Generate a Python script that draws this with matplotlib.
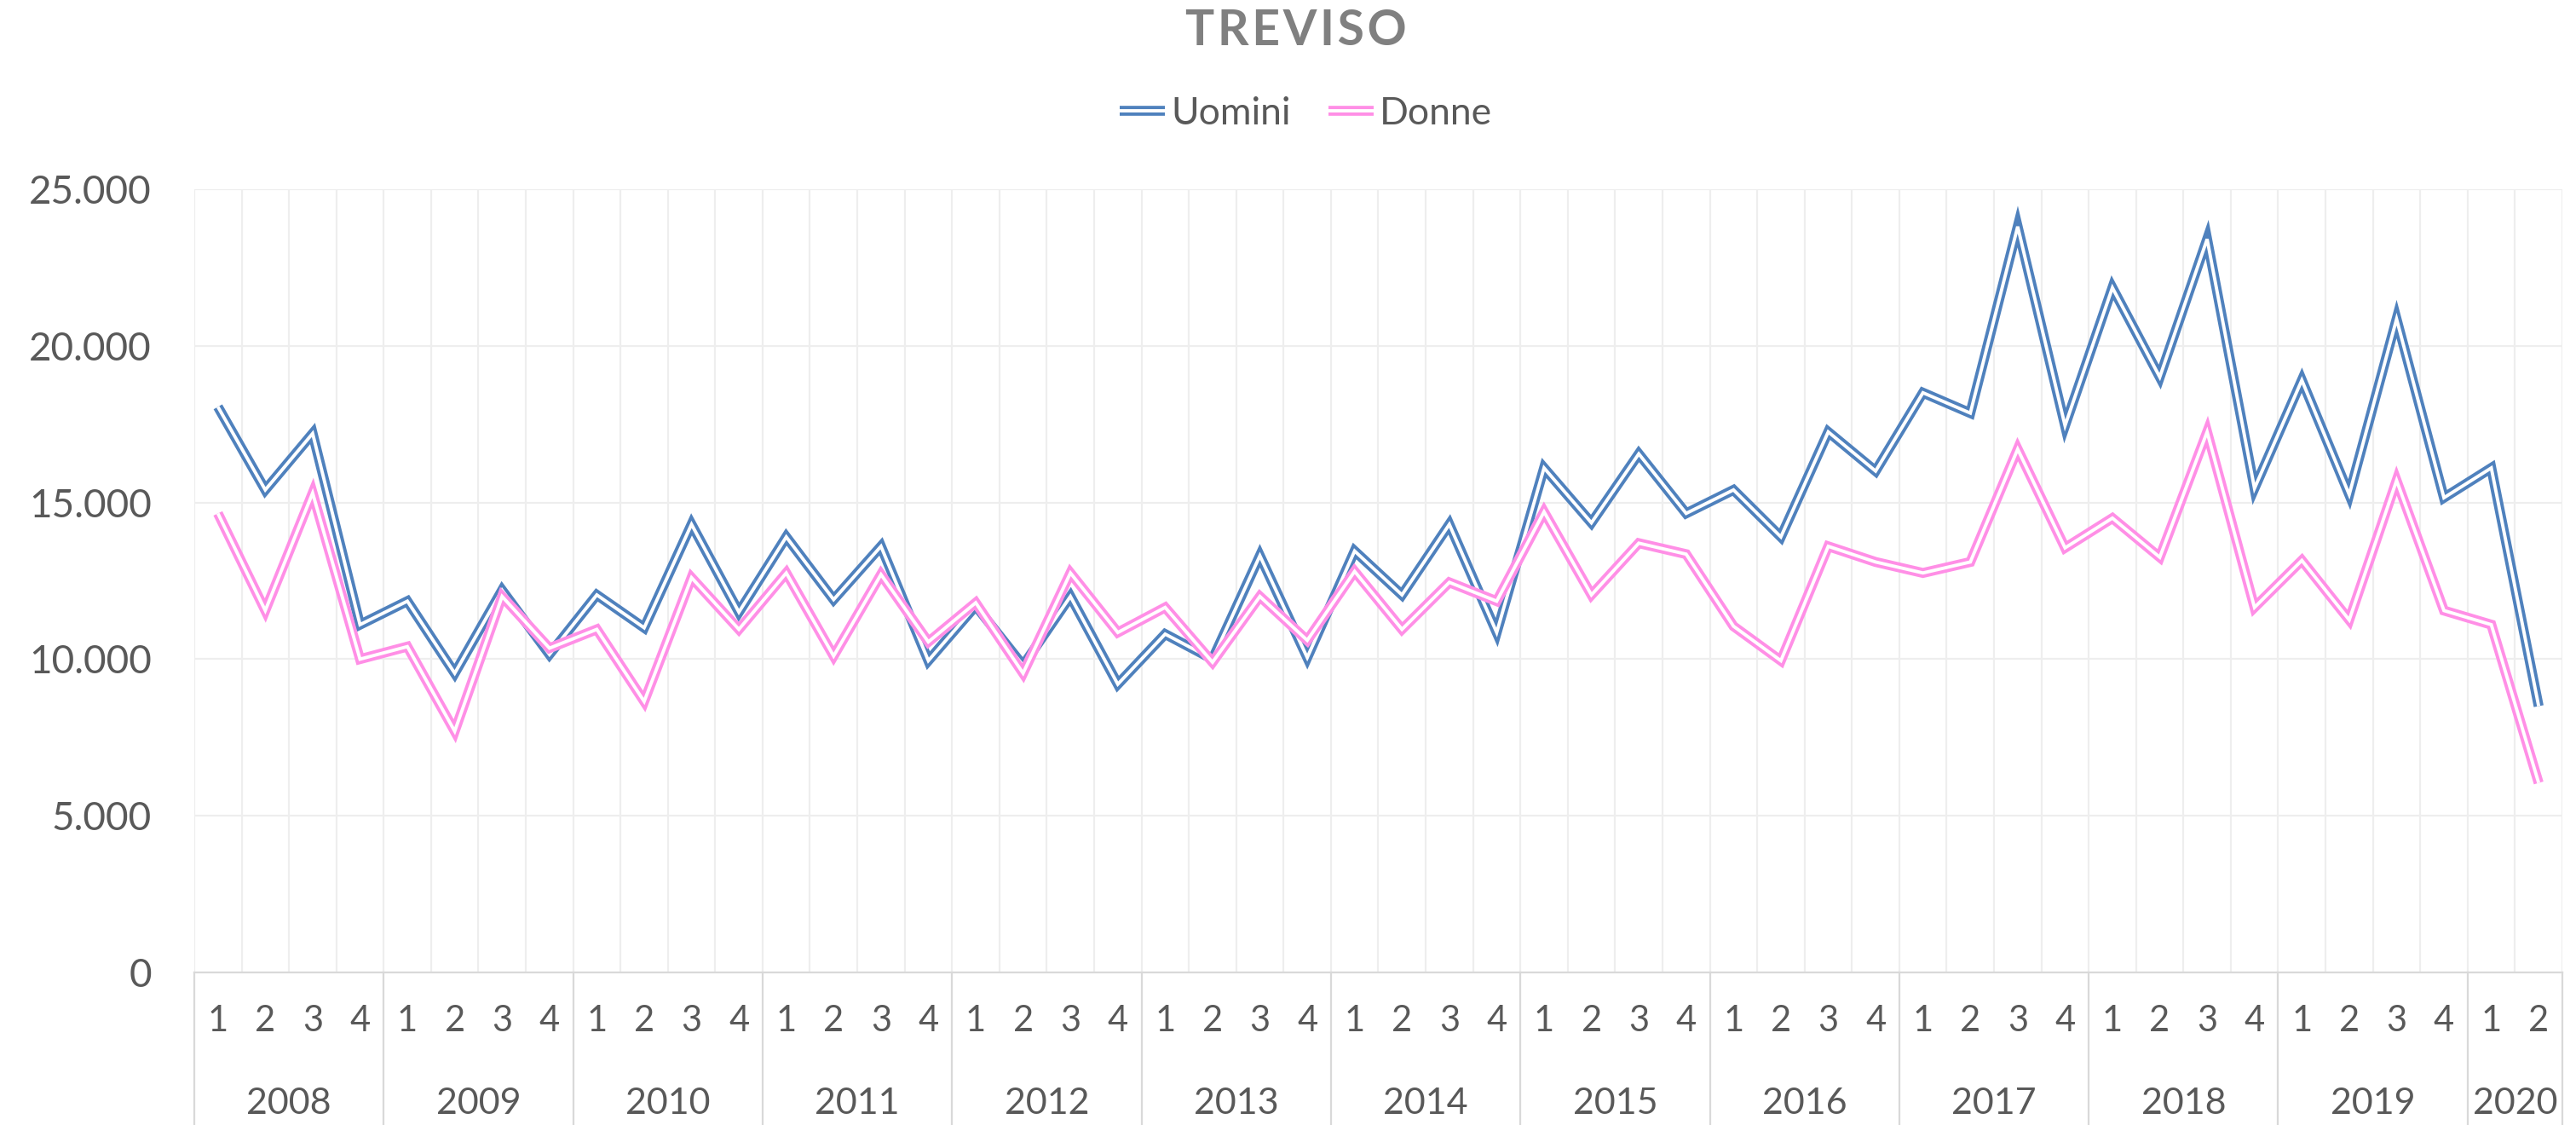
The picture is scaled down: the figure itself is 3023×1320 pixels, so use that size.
import matplotlib.pyplot as plt
import matplotlib.patheffects as pe
from matplotlib.transforms import blended_transform_factory

# quarterly values, 2008 Q1 -> 2020 Q2
years = [2008, 2009, 2010, 2011, 2012, 2013, 2014, 2015, 2016, 2017, 2018, 2019, 2020]
quarters_per_year = [4, 4, 4, 4, 4, 4, 4, 4, 4, 4, 4, 4, 2]
quarter_labels = [str(q) for n in quarters_per_year for q in range(1, n + 1)]

uomini = [18050, 15400, 17200, 11100, 11850, 9550, 12200, 10150, 12050, 11000, 14300, 11500,
          13900, 11900, 13600, 9950, 11700, 9800, 12000, 9200, 10800, 10000, 13300, 10050,
          13450, 12050, 14300, 10850, 16100, 14350, 16550, 14650, 15400, 13900, 17250, 16000,
          18500, 17850, 23800, 17450, 21850, 19000, 23400, 15450, 18900, 15250, 20850, 15150,
          16100, 8500]
donne = [14650, 11550, 15300, 10000, 10400, 7700, 12000, 10350, 10950, 8650, 12600, 10950,
         12750, 10100, 12700, 10550, 11800, 9550, 12750, 10850, 11650, 9900, 12000, 10600,
         12800, 10950, 12450, 11850, 14700, 12050, 13700, 13350, 11050, 9950, 13600, 13100,
         12750, 13100, 16700, 13550, 14500, 13250, 17250, 11650, 13150, 11250, 15700, 11550,
         11100, 6050]

blue = '#4F81BD'
pink = '#FF8FE6'
text_col = '#595959'
grid_col = '#EEEEEE'

plt.rcParams['font.family'] = ['Lato', 'DejaVu Sans']

fig = plt.figure(figsize=(30.23, 13.2), dpi=100)
ax = fig.add_axes([0.0754, 0.1355, 0.9193, 0.6965])

x = [i + 0.5 for i in range(len(uomini))]
for vals, col, name in [(uomini, blue, 'Uomini'), (donne, pink, 'Donne')]:
    ax.plot(x, vals, color='white', lw=2.8, label=name,
            solid_joinstyle='miter', solid_capstyle='butt',
            path_effects=[pe.Stroke(linewidth=8.4, foreground=col, joinstyle='miter', capstyle='butt'),
                          pe.Normal()])

ax.set_xlim(0, len(uomini))
ax.set_ylim(0, 25000)
ax.set_yticks(range(0, 25001, 5000))
ax.set_yticklabels([f"{v:,.0f}".replace(',', '.') for v in range(0, 25001, 5000)])
ax.set_xticks(x)
ax.set_xticklabels(quarter_labels)
ax.set_xticks(range(0, len(uomini) + 1), minor=True)
ax.tick_params(axis='both', which='both', length=0, colors=text_col)
ax.tick_params(axis='y', labelsize=33, pad=36)
ax.tick_params(axis='x', labelsize=30, pad=27)

ax.grid(True, which='minor', axis='x', color=grid_col, lw=1.6)
ax.grid(True, which='major', axis='y', color=grid_col, lw=1.6)
ax.set_axisbelow(True)
for s in ['top', 'left', 'right']:
    ax.spines[s].set_visible(False)
ax.spines['bottom'].set_color('#D9D9D9')
ax.spines['bottom'].set_linewidth(1.6)

# year labels and separators under the axis
trans = blended_transform_factory(ax.transData, ax.transAxes)
start = 0
ax.plot([0, 0], [0, -0.25], transform=trans, color='#D9D9D9', lw=1.6, clip_on=False)
for yr, n in zip(years, quarters_per_year):
    ax.text(start + n / 2, -0.167, str(yr), transform=trans, ha='center', va='center',
            fontsize=31, color=text_col)
    start += n
    ax.plot([start, start], [0, -0.25], transform=trans, color='#D9D9D9', lw=1.6, clip_on=False)

fig.text(0.503, 0.972, 'T R E V I S O'.replace(' ', '\u200a'), ha='center', va='center',
         fontsize=41, fontweight='bold', color='#808080')
fig.legend(loc='center', bbox_to_anchor=(0.507, 0.899), ncol=2, frameon=False, fontsize=32,
           handlelength=1.2, handletextpad=0.15, columnspacing=1.0, labelcolor=text_col)

fig.savefig('out.png', dpi=100, facecolor='white')
